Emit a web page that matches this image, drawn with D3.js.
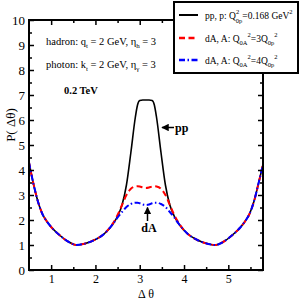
<!DOCTYPE html>
<html><head><meta charset="utf-8">
<script src="https://cdn.jsdelivr.net/npm/d3@7"></script>
<style>
html,body{margin:0;padding:0;background:#fff;}
svg{display:block;font-family:"Liberation Serif","Times New Roman",serif;}
</style></head>
<body>
<svg id="chart" width="300" height="300"></svg>
<script>
const xValues = [0.5,0.6,0.7,0.8,0.9,1.0,1.2,1.4,1.57,1.75,2.0,2.2,2.4,2.5,2.6,2.7,2.8,2.9,2.95,3.0,3.07,3.14,3.21,3.28,3.33,3.38,3.48,3.58,3.68,3.78,3.88,4.08,4.28,4.53,4.71,4.88,5.08,5.28,5.38,5.48,5.58,5.68,5.78];
const ppValues = [4.3,3.45,2.75,2.25,1.95,1.72,1.38,1.12,1.0,1.05,1.22,1.45,1.85,2.15,2.6,3.4,4.7,6.1,6.6,6.78,6.8,6.8,6.8,6.78,6.6,6.1,4.7,3.4,2.6,2.15,1.85,1.45,1.22,1.05,1.0,1.12,1.38,1.72,1.95,2.25,2.75,3.45,4.2];
const dA3Values = [4.3,3.45,2.75,2.25,1.95,1.72,1.38,1.12,1.0,1.05,1.22,1.45,1.88,2.2,2.6,3.0,3.25,3.34,3.35,3.34,3.3,3.28,3.3,3.34,3.35,3.34,3.25,3.0,2.6,2.2,1.88,1.45,1.22,1.05,1.0,1.12,1.38,1.72,1.95,2.25,2.75,3.45,4.2];
const dA4Values = [4.3,3.45,2.75,2.25,1.95,1.72,1.38,1.12,1.0,1.05,1.22,1.45,1.85,2.1,2.32,2.52,2.64,2.69,2.69,2.67,2.62,2.6,2.62,2.67,2.69,2.69,2.64,2.52,2.32,2.1,1.85,1.45,1.22,1.05,1.0,1.12,1.38,1.72,1.95,2.25,2.75,3.45,4.2];
const xTicks = [1,2,3,4,5];
const xMinorTicks = [1.5,2.5,3.5,4.5,5.5];
const yTicks = [0,1,2,3,4,5,6,7,8,9,10];
const yMinorTicks = [0.5,1.5,2.5,3.5,4.5,5.5,6.5,7.5,8.5,9.5];

const svg = d3.select("#chart");
const L=29,R=263,T=20,B=270;
const x = d3.scaleLinear().domain([0.5, 2*Math.PI-0.5]).range([L,R]);
const y = d3.scaleLinear().domain([0,10]).range([B,T]);

// curves
const series = [
  {vals: ppValues, color:"#000", dash:null, w:1.6},
  {vals: dA3Values, color:"#ff0000", dash:"6,3.5", w:2},
  {vals: dA4Values, color:"#0000ff", dash:"6,2.5,1.5,2.5", w:2}
];
const line = d3.line().x(d=>x(d[0])).y(d=>y(d[1])).curve(d3.curveMonotoneX);
const g = svg.append("g");
series.forEach(s=>{
  g.append("path").attr("d", line(xValues.map((v,i)=>[v,s.vals[i]])))
   .attr("fill","none").attr("stroke",s.color).attr("stroke-width",s.w)
   .attr("stroke-dasharray",s.dash);
});

// axes
function styleAxis(sel){ sel.select(".domain").remove(); sel.selectAll("line").attr("stroke","#000").attr("stroke-width",1.5); }
const mk = (axis, vals, size, fmt, tr) => {
  const a = svg.append("g").attr("transform",tr).call(axis.tickValues(vals).tickSize(size).tickSizeOuter(0).tickFormat(fmt));
  styleAxis(a); return a;
};
const bx = mk(d3.axisBottom(x), xTicks, -5, d3.format("d"), `translate(0,${B})`);
bx.selectAll("text").attr("y",4).attr("dy","0.71em").attr("font-size",12).attr("font-family","Liberation Serif");
mk(d3.axisBottom(x), xMinorTicks, -3, "", `translate(0,${B})`);
mk(d3.axisTop(x), xTicks, -5, "", `translate(0,${T})`);
mk(d3.axisTop(x), xMinorTicks, -3, "", `translate(0,${T})`);
const ly = mk(d3.axisLeft(y), yTicks, -5, d3.format("d"), `translate(${L},0)`);
ly.selectAll("text").attr("x",-4).attr("font-size",13).attr("font-family","Liberation Serif");
mk(d3.axisLeft(y), yMinorTicks, -3, "", `translate(${L},0)`);
mk(d3.axisRight(y), yTicks, -5, "", `translate(${R},0)`);
mk(d3.axisRight(y), yMinorTicks, -3, "", `translate(${R},0)`);
svg.append("rect").attr("x",L).attr("y",T).attr("width",R-L).attr("height",B-T)
  .attr("fill","none").attr("stroke","#000").attr("stroke-width",2);

// axis titles
svg.append("text").attr("x",146).attr("y",298).attr("text-anchor","middle").attr("font-size",12).text("Δ θ");
svg.append("text").attr("transform","translate(15,125) rotate(-90)").attr("text-anchor","middle").attr("font-size",13).text("P( Δθ)");

// annotations
const t1 = svg.append("text").attr("x",46).attr("y",45).attr("font-size",10.5);
t1.append("tspan").text("hadron: q");
t1.append("tspan").attr("font-size",7).attr("dy",2.5).text("t");
t1.append("tspan").attr("dy",-2.5).text(" = 2 GeV, η");
t1.append("tspan").attr("font-size",7).attr("dy",2.5).text("h");
t1.append("tspan").attr("dy",-2.5).text(" = 3");
const t2 = svg.append("text").attr("x",46).attr("y",68).attr("font-size",10.5);
t2.append("tspan").text("photon: k");
t2.append("tspan").attr("font-size",7).attr("dy",2.5).text("t");
t2.append("tspan").attr("dy",-2.5).text(" = 2 GeV, η");
t2.append("tspan").attr("font-size",7).attr("dy",2.5).text("γ");
t2.append("tspan").attr("dy",-2.5).text(" = 3");
svg.append("text").attr("x",64).attr("y",94).attr("font-size",10.5).attr("font-weight","bold").text("0.2 TeV");

// pp arrow & label
svg.append("defs").append("marker").attr("id","ah").attr("viewBox","0 0 10 10").attr("refX",9).attr("refY",5)
  .attr("markerWidth",5).attr("markerHeight",5).attr("orient","auto")
  .append("path").attr("d","M0,0L10,5L0,10z").attr("fill","#000");
svg.append("line").attr("x1",174).attr("y1",127.5).attr("x2",162).attr("y2",127.5).attr("stroke","#000").attr("stroke-width",1.5).attr("marker-end","url(#ah)");
svg.append("text").attr("x",175).attr("y",132).attr("font-size",12).attr("font-weight","bold").text("pp");
svg.append("line").attr("x1",147.5).attr("y1",221).attr("x2",147.5).attr("y2",207.5).attr("stroke","#000").attr("stroke-width",1.5).attr("marker-end","url(#ah)");
svg.append("text").attr("x",149).attr("y",232).attr("text-anchor","middle").attr("font-size",12).attr("font-weight","bold").text("dA");

// legend
const lg = svg.append("g");
lg.append("rect").attr("x",174).attr("y",2).attr("width",124).attr("height",71).attr("fill","#fff").attr("stroke","#000").attr("stroke-width",2);
const rows=[15,38,60];
series.forEach((s,i)=>{
  lg.append("line").attr("x1",179).attr("x2",198).attr("y1",rows[i]).attr("y2",rows[i])
    .attr("stroke",s.color).attr("stroke-width",s.w+0.4).attr("stroke-dasharray",s.dash);
});
const fs=9.5, ss=6.5;
const e1 = lg.append("text").attr("x",205).attr("y",rows[0]+3.5).attr("font-size",fs);
e1.append("tspan").text("pp, p: Q");
e1.append("tspan").attr("font-size",ss).attr("dy",-5).text("2");
e1.append("tspan").attr("font-size",ss).attr("dx",-3.3).attr("dy",9).text("0p");
e1.append("tspan").attr("dy",-4).text("=0.168 GeV");
e1.append("tspan").attr("font-size",ss).attr("dy",-5).text("2");
[["3",1],["4",2]].forEach(([k,i])=>{
  const e = lg.append("text").attr("x",205).attr("y",rows[i]+3.5).attr("font-size",fs);
  e.append("tspan").text("dA, A: Q");
  e.append("tspan").attr("font-size",ss).attr("dy",3).text("0A");
  e.append("tspan").attr("font-size",ss).attr("dy",-8).text("2");
  e.append("tspan").attr("dy",5).text("="+k+"Q");
  e.append("tspan").attr("font-size",ss).attr("dy",3).text("0p");
  e.append("tspan").attr("font-size",ss).attr("dy",-8).text("2");
});
</script>
</body></html>
